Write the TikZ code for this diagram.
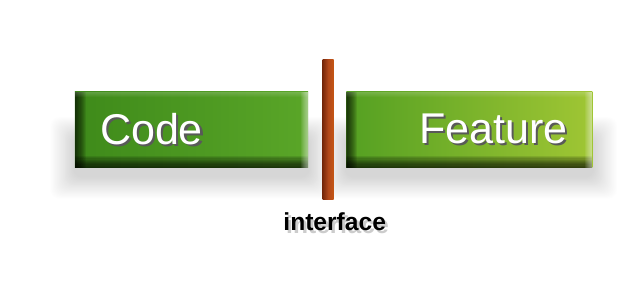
\documentclass[tikz,border=0pt]{standalone}
\usepackage{fontspec}
\newfontfamily\labelfont{Liberation Sans}
\usetikzlibrary{positioning}
\usetikzlibrary{backgrounds}

\definecolor{codeleft}{RGB}{62,138,26}
\definecolor{coderight}{RGB}{90,166,40}
\definecolor{featgreen}{RGB}{84,160,34}
\definecolor{featlime}{RGB}{160,198,52}
\definecolor{rust}{RGB}{178,72,26}
\definecolor{rustdark}{RGB}{120,40,10}

% white letters with a dark cast to the lower right
\newcommand\embossed[1]{\makebox[0pt][l]{\kern1.3pt\raisebox{-1.3pt}{\color{black!65}#1}}{\color{white}#1}}
\newcommand\castshadow[1]{\makebox[0pt][l]{\kern1.6pt\raisebox{-1.6pt}{\color{black!20}#1}}#1}

\begin{document}
\begin{tikzpicture}[
	button/.style={minimum height=1.52cm, inner xsep=0.5cm, inner ysep=0pt,
		font=\labelfont\fontsize{24.5}{28}\selectfont,
		path picture={
			% dark bevel on the left and bottom, light on the right
			\foreach \k in {1,...,10} {
				\fill[black, opacity=0.09] (path picture bounding box.south west) rectangle ([xshift=\k*0.022cm]path picture bounding box.north west);
				\fill[black, opacity=0.1] (path picture bounding box.south west) rectangle ([yshift=\k*0.024cm]path picture bounding box.south east);
			}
			\foreach \k in {1,...,7}
				\fill[white, opacity=0.08] ([xshift=-\k*0.02cm]path picture bounding box.south east) rectangle (path picture bounding box.north east);
			\foreach \k in {1,...,5}
				\fill[white, opacity=0.04] ([yshift=-\k*0.02cm]path picture bounding box.north west) rectangle (path picture bounding box.north east);
		}},
	bar/.style={minimum width=0.22cm, minimum height=2.8cm, inner sep=0pt,
		left color=rustdark, right color=rust!75!orange, middle color=rust}
	]

	% Nodes
	\node[button, minimum width=4.66cm, text width=3.66cm, align=left,
		left color=codeleft, right color=coderight] (code) at (3.83,3.10) {\embossed{Code}};
	\node[bar, right=0.28cm of code] (iface) {};
	\node[button, minimum width=4.92cm, text width=3.92cm, align=right,
		left color=featgreen, right color=featlime, right=0.24cm of iface] (feature) {\embossed{Feature}};

	% Label
	\node[below=0.12cm of iface.south, xshift=0.13cm, font=\labelfont\bfseries\fontsize{14}{16}\selectfont] (ifacelabel) {\castshadow{interface}};

	% Shadows under the buttons, from the faint rim inwards
	\begin{pgfonlayer}{background}
		\fill[white] (0,0) rectangle (12.86,5.7);
		\foreach \k in {20,19,...,1} {
			\pgfmathsetmacro\tone{(21-\k)*0.8}
			\pgfmathsetmacro\grow{\k*0.024}
			\pgfmathsetmacro\drop{0.16+\k*0.022}
			\pgfmathsetmacro\rise{\k*0.02-0.15}
			\foreach \btn in {code, feature}
				\fill[black!\tone, rounded corners=5pt] ([xshift=-\grow cm, yshift=-\drop cm]\btn.south west) rectangle ([xshift=\grow cm, yshift=\rise cm]\btn.east);
		}
	\end{pgfonlayer}
	\useasboundingbox (0,0) rectangle (12.86,5.7);
\end{tikzpicture}
\end{document}
